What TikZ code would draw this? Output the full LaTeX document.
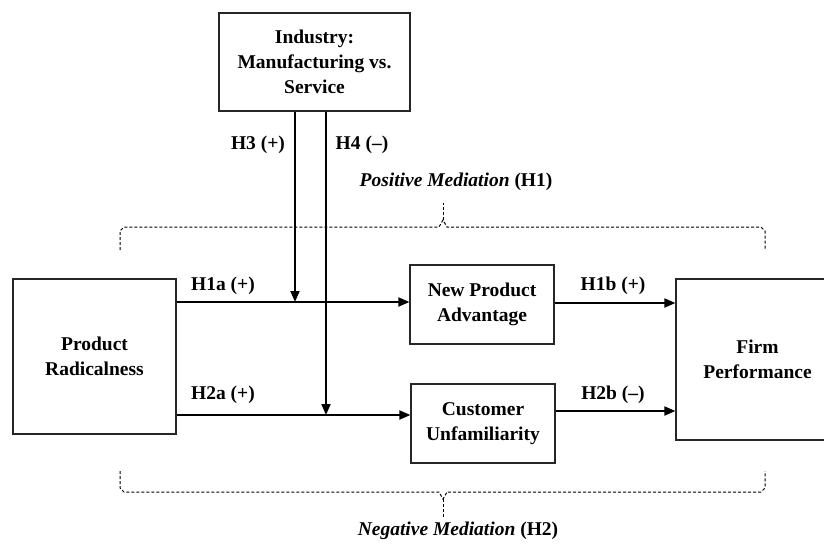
\documentclass[tikz,border=0pt]{standalone}
\usepackage{fontspec}
\setmainfont{Liberation Serif}
\usetikzlibrary{arrows.meta,calc}
\begin{document}
\begin{tikzpicture}[x=1pt,y=-1pt,
  box/.style={draw=black!85,line width=1.2pt,inner sep=0pt,align=center,
    font=\fontsize{19.5}{25}\selectfont\bfseries},
  lbl/.style={font=\fontsize{19.5}{25}\selectfont\bfseries,inner sep=0pt},
  arr/.style={line width=1.8pt,-{Triangle[length=11pt,width=9pt]}},
  brace/.style={line width=1pt,dash pattern=on 3pt off 2pt}]
\useasboundingbox (0,0) rectangle (824,544);
% boxes
\node[box,minimum width=191pt,minimum height=98pt] (ind) at (314.5,62) {Industry:\\Manufacturing vs.\\Service};
\node[box,minimum width=163pt,minimum height=155pt] (pr) at (94.5,356.5) {Product\\Radicalness};
\node[box,minimum width=144pt,minimum height=79pt] (npa) at (482,304.5) {New Product\\Advantage};
\node[box,minimum width=144pt,minimum height=79pt] (cu) at (483,423.5) {Customer\\Unfamiliarity};
\node[box,minimum width=163pt,minimum height=161pt] (fp) at (757.5,359.5) {Firm\\Performance};
% junction coordinates on the paths
\coordinate (m3) at (295,302);
\coordinate (m4) at (326,415);
% main arrows
\draw[arr] (pr.east |- m3) -- (npa.west |- m3);
\draw[arr] (pr.east |- m4) -- (cu.west |- m4);
\draw[arr] ([yshift=1.5pt]npa.east) -- ([yshift=1.5pt]npa.east -| fp.west);
\draw[arr] ([yshift=12.5pt]cu.east) -- ([yshift=12.5pt]cu.east -| fp.west);
% moderators
\draw[arr] (ind.south -| m3) -- (m3);
\draw[arr] (ind.south -| m4) -- (m4);
% labels
\node[lbl] (l1a) at (223,286) {H1a (+)};
\node[lbl] (l2a) at (223,395) {H2a (+)};
\node[lbl] (l1b) at (613,286) {H1b (+)};
\node[lbl] (l2b) at (613,395) {H2b (--)};
\node[lbl] (l3) at (258,145) {H3 (+)};
\node[lbl] (l4) at (362,145) {H4 (--)};
\node[lbl] (pos) at (456,182) {\textit{Positive Mediation} (H1)};
\node[lbl] (neg) at (458,531) {\textit{Negative Mediation} (H2)};
% braces
\coordinate (tipU) at (443,220);
\coordinate (endU) at (443,203);
\coordinate (tipL) at (443,499);
\coordinate (endL) at (443,517);
\draw[brace] (120,250) -- (120,231) -- (124,227) -- (439,227) -- (tipU) -- (447,227) -- (761,227) -- (765,231) -- (765,250);
\draw[brace] (tipU) -- (endU);
\draw[brace] (120,471) -- (120,488) -- (124,492) -- (439,492) -- (tipL) -- (447,492) -- (761,492) -- (765,488) -- (765,471);
\draw[brace] (tipL) -- (endL);
\end{tikzpicture}
\end{document}
